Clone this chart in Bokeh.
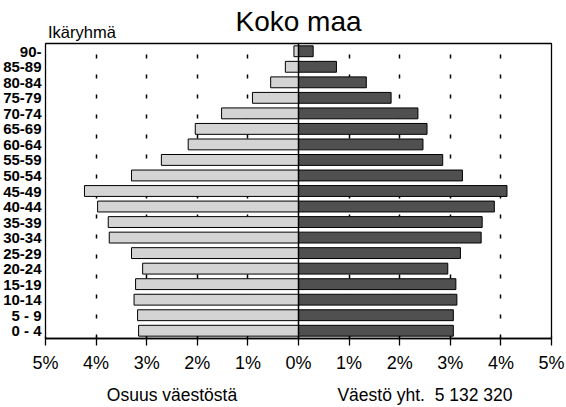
from bokeh.plotting import figure
from bokeh.models import ColumnDataSource, FixedTicker, Span, LinearAxis
from bokeh.embed import file_html
from bokeh.resources import INLINE

# Age groups (bottom to top)
age_groups = ["0 - 4", "5 - 9", "10-14", "15-19", "20-24", "25-29", "30-34",
              "35-39", "40-44", "45-49", "50-54", "55-59", "60-64", "65-69",
              "70-74", "75-79", "80-84", "85-89", "90-"]
# Share of population, % (left side, light bars)
left_share = [3.16, 3.18, 3.25, 3.22, 3.08, 3.30, 3.74, 3.76, 3.97, 4.23,
              3.30, 2.71, 2.18, 2.04, 1.52, 0.91, 0.55, 0.26, 0.09]
# Share of population, % (right side, dark bars)
right_share = [3.06, 3.06, 3.13, 3.11, 2.95, 3.20, 3.61, 3.63, 3.87, 4.12,
               3.24, 2.85, 2.46, 2.54, 2.36, 1.83, 1.34, 0.75, 0.29]

tick_values = [-5, -4, -3, -2, -1, 0, 1, 2, 3, 4, 5]
tick_labels = ["5%", "4%", "3%", "2%", "1%", "0%", "1%", "2%", "3%", "4%", "5%"]
grid_values = [-4, -3, -2, -1, 1, 2, 3, 4]

title_text = "Koko maa"
y_title_text = "Ikäryhmä"
y_title_pos = -4.28
bottom_texts = ["Osuus väestöstä", "Väestö yht.\u00a0 5 132 320"]
bottom_pos = [-2.5, 2.5]

FONT = "Liberation Sans"

ypos = list(range(len(age_groups)))
src = ColumnDataSource(dict(
    y=ypos,
    left_neg=[-v for v in left_share],
    right_pos=right_share,
))

p = figure(width=566, height=407, x_range=(-5, 5), y_range=(-0.5, 18.5),
           output_backend="svg", toolbar_location=None,
           min_border_left=45, min_border_right=15,
           min_border_top=43, min_border_bottom=67)
p.background_fill_color = "white"
p.border_fill_color = "white"
p.outline_line_color = "black"
p.outline_line_width = 1.3

# grid
p.ygrid.visible = False
p.xgrid.ticker = FixedTicker(ticks=grid_values)
p.xgrid.grid_line_color = "black"
p.xgrid.grid_line_width = 1.5
p.xgrid.grid_line_dash = "4 16"

# bars
p.hbar(y="y", left="left_neg", right=0, height=0.7, source=src,
       fill_color="#d4d4d4", line_color="black", line_width=1)
p.hbar(y="y", left=0, right="right_pos", height=0.7, source=src,
       fill_color="#505050", line_color="black", line_width=1)

p.add_layout(Span(location=0, dimension="height", line_color="black",
                  line_width=1.5))

# x axis
p.xaxis.ticker = FixedTicker(ticks=tick_values)
p.xaxis.major_label_overrides = {v: l for v, l in zip(tick_values, tick_labels)}
p.xaxis.major_tick_out = 7
p.xaxis.major_tick_in = 2
p.xaxis.minor_tick_line_color = None
p.xaxis.axis_line_width = 1.3
p.xaxis.major_tick_line_width = 1.3
p.xaxis.major_label_text_font = FONT
p.xaxis.major_label_text_font_size = "18px"
p.xaxis.major_label_text_color = "black"
p.xaxis.major_label_standoff = 7

# y axis
p.yaxis.ticker = FixedTicker(ticks=ypos)
p.yaxis.major_label_overrides = {i: g for i, g in zip(ypos, age_groups)}
p.yaxis.major_tick_out = 0
p.yaxis.major_tick_in = 0
p.yaxis.minor_tick_line_color = None
p.yaxis.axis_line_color = None
p.yaxis.major_label_text_font = FONT
p.yaxis.major_label_text_font_style = "bold"
p.yaxis.major_label_text_font_size = "15px"
p.yaxis.major_label_text_color = "black"
p.yaxis.major_label_standoff = 4


def text_axis(ticks, labels, size, standoff):
    ax = LinearAxis(ticker=FixedTicker(ticks=ticks),
                    major_label_overrides={t: l for t, l in zip(ticks, labels)})
    ax.axis_line_color = None
    ax.major_tick_line_color = None
    ax.minor_tick_line_color = None
    ax.major_tick_out = 0
    ax.major_tick_in = 0
    ax.major_label_text_font = FONT
    ax.major_label_text_font_size = size
    ax.major_label_text_color = "black"
    ax.major_label_standoff = standoff
    return ax

# top: "Ikäryhmä" as a label and the title as the axis label
top_ax = text_axis([y_title_pos], [y_title_text], "16.5px", 3)
top_ax.axis_label = title_text
top_ax.axis_label_text_font = FONT
top_ax.axis_label_text_font_style = "normal"
top_ax.axis_label_text_font_size = "28px"
top_ax.axis_label_text_color = "black"
top_ax.axis_label_standoff = -17
p.add_layout(top_ax, "above")

# bottom texts
bottom_ax = text_axis(bottom_pos, bottom_texts, "17.5px", 9)
p.add_layout(bottom_ax, "below")

open("out.html", "w").write(file_html(p, INLINE))
